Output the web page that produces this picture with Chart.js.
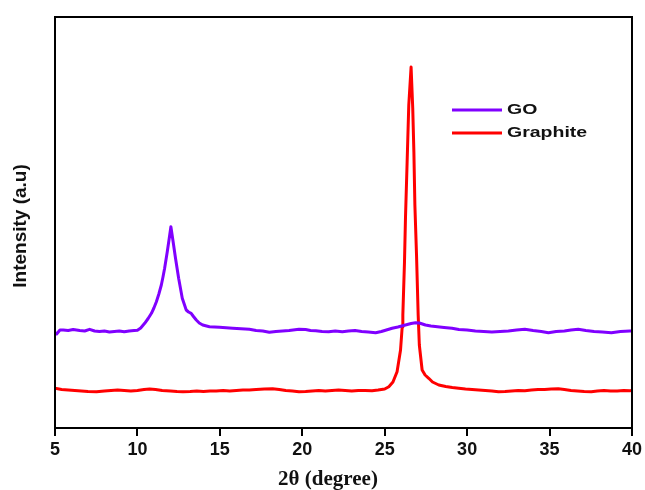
<!DOCTYPE html>
<html>
<head>
<meta charset="utf-8">
<script src="https://cdn.jsdelivr.net/npm/chart.js@4.4.0/dist/chart.umd.min.js"></script>
<style>
  html, body { margin: 0; padding: 0; background: #fff; }
  #wrap { width: 645px; height: 490px; }
</style>
</head>
<body>
<div id="wrap"><canvas id="xrd"></canvas></div>
<script>
// XRD patterns, 2theta in degrees, intensity in arbitrary units
var goTheta = [5.00, 5.10, 5.30, 5.50, 5.80, 6.10, 6.50, 6.80, 7.10, 7.40, 7.70, 8.00, 8.30, 8.60, 8.90, 9.20, 9.50, 9.80, 10.00,
  10.20, 10.44, 10.65, 10.85, 11.00, 11.15, 11.30, 11.45, 11.55, 11.65, 11.81, 11.93, 12.03, 12.15, 12.31, 12.50, 12.72,
  12.96, 13.10, 13.26, 13.40, 13.57, 13.75, 13.96, 14.37, 14.98, 15.78, 16.79, 17.20, 17.60, 18.00, 18.40, 18.80, 19.20, 19.80,
  20.20, 20.50, 20.82, 21.20, 21.60, 22.00, 22.43, 22.80, 23.20, 23.60, 24.00, 24.45, 24.80, 25.10, 25.45, 25.80, 26.26, 26.60,
  26.87, 27.10, 27.47, 27.80, 28.20, 28.60, 29.08, 29.50, 30.00, 30.50, 31.00, 31.50, 32.00, 32.50, 33.00, 33.50, 34.00, 34.50,
  34.93, 35.40, 35.90, 36.30, 36.74, 37.20, 37.70, 38.20, 38.75, 39.30, 39.87, 40.00];
var goIntensity = [953, 940, 980, 980, 975, 985, 975, 970, 987, 970, 965, 970, 960, 965, 970, 962, 970, 975, 978,
  1000, 1047, 1095, 1147, 1200, 1263, 1340, 1430, 1510, 1597, 1763, 1897, 2013, 1880, 1697, 1497, 1297,
  1180, 1160, 1147, 1115, 1080, 1050, 1030, 1013, 1007, 997, 987, 975, 970, 957, 965, 970, 975, 987,
  985, 975, 973, 965, 962, 970, 963, 970, 975, 965, 960, 953, 965, 980, 997, 1010, 1030, 1045,
  1053, 1050, 1030, 1020, 1012, 1005, 997, 985, 980, 970, 965, 960, 965, 970, 980, 987, 975, 965,
  953, 965, 970, 980, 987, 975, 965, 960, 953, 965, 970, 970];

var graphiteTheta = [5.0, 5.4, 5.8, 6.2, 6.6, 7.0, 7.52, 8.0, 8.4, 8.8, 9.2, 9.6, 10.0, 10.4, 10.74, 11.1, 11.5, 12.0, 12.4,
  12.76, 13.2, 13.6, 14.0, 14.4, 14.78, 15.2, 15.6, 16.0, 16.4, 16.79, 17.2, 17.7, 18.2, 18.6, 19.0, 19.4, 19.8, 20.2, 20.6,
  21.0, 21.4, 21.8, 22.2, 22.6, 23.0, 23.4, 23.8, 24.23, 24.6, 25.0, 25.25, 25.5, 25.75, 25.96, 26.06, 26.10, 26.20, 26.26,
  26.36, 26.46, 26.60, 26.70, 26.77, 26.83, 26.93, 27.03, 27.10, 27.27, 27.45, 27.67, 27.9, 28.28, 28.7, 29.1, 29.49, 29.9,
  30.3, 30.7, 31.1, 31.5, 31.9, 32.3, 32.7, 33.1, 33.5, 33.9, 34.3, 34.7, 35.1, 35.53, 35.9, 36.3, 36.7, 37.1, 37.53, 37.9,
  38.3, 38.7, 39.1, 39.5, 39.87, 40.0];
var graphiteIntensity = [397, 385, 380, 375, 370, 365, 363, 370, 375, 380, 375, 370, 375, 385, 390, 385, 375, 370, 365,
  363, 365, 370, 365, 370, 370, 375, 370, 375, 380, 380, 385, 390, 393, 385, 375, 370, 363, 365, 370,
  375, 370, 375, 380, 375, 370, 375, 375, 373, 380, 390, 413, 460, 563, 780, 1010, 1130, 1660, 2100,
  2660, 3230, 3610, 3200, 2760, 2230, 1730, 1130, 830, 580, 530, 497, 460, 430, 415, 405, 397, 390,
  385, 380, 375, 370, 363, 365, 370, 375, 373, 380, 385, 385, 390, 393, 385, 375, 370, 365, 363, 370,
  375, 370, 370, 375, 373, 375];

var xTicks = [5, 10, 15, 20, 25, 30, 35, 40];

function toPoints(xs, ys) {
  return xs.map(function (x, i) { return { x: x, y: ys[i] }; });
}

// frame, axis titles and the legend box inside the plot
var framePlugin = {
  id: 'frame',
  afterDatasetsDraw: function (chart) {
    var c = chart.ctx, a = chart.chartArea;
    c.save();
    c.strokeStyle = '#000';
    c.lineWidth = 2;
    c.strokeRect(a.left, a.top, a.right - a.left, a.bottom - a.top);

    c.fillStyle = '#111';
    c.textAlign = 'center';
    c.textBaseline = 'middle';
    c.font = 'bold 21px "Liberation Serif", "Times New Roman", serif';
    c.fillText('2θ (degree)', 328, 480);

    c.save();
    c.translate(21, 226);
    c.rotate(-Math.PI / 2);
    c.font = 'bold 19px "Liberation Sans", Arial, sans-serif';
    c.fillText('Intensity (a.u)', 0, 0);
    c.restore();

    c.textAlign = 'left';
    var rows = [110, 133];
    chart.data.datasets.forEach(function (ds, i) {
      var y = rows[i];
      c.strokeStyle = ds.borderColor;
      c.lineWidth = 3;
      c.beginPath();
      c.moveTo(452, y);
      c.lineTo(502, y);
      c.stroke();
      c.font = 'bold 15px "Liberation Sans", Arial, sans-serif';
      c.save();
      c.translate(507, y);
      c.scale(1.3, 1);
      c.fillText(ds.label, 0, 0);
      c.restore();
    });
    c.restore();
  }
};

var chart = new Chart(document.getElementById('xrd'), {
  type: 'line',
  data: {
    datasets: [
      {
        label: 'GO',
        data: toPoints(goTheta, goIntensity),
        borderColor: '#8000ff',
        borderWidth: 3
      },
      {
        label: 'Graphite',
        data: toPoints(graphiteTheta, graphiteIntensity),
        borderColor: '#ff0000',
        borderWidth: 3
      }
    ]
  },
  options: {
    responsive: true,
    maintainAspectRatio: false,
    animation: false,
    layout: { padding: { top: 17, right: 11, left: 0, bottom: 0 } },
    elements: {
      point: { radius: 0 },
      line: { tension: 0, borderJoinStyle: 'round', borderCapStyle: 'round' }
    },
    plugins: { legend: { display: false }, tooltip: { enabled: false } },
    scales: {
      x: {
        type: 'linear',
        min: 5,
        max: 40,
        afterBuildTicks: function (scale) {
          scale.ticks = xTicks.map(function (v) { return { value: v }; });
        },
        afterFit: function (scale) { scale.height = 62; },
        grid: { display: true, drawOnChartArea: false, drawTicks: true, tickLength: 8, color: '#000', lineWidth: 2 },
        border: { display: true, color: '#000', width: 2 },
        ticks: {
          color: '#111',
          padding: 3,
          maxRotation: 0,
          font: { family: '"Liberation Sans", Arial, sans-serif', size: 18, weight: 'bold' }
        }
      },
      y: {
        min: 0,
        max: 4110,
        afterFit: function (scale) { scale.width = 55; },
        grid: { display: false },
        border: { display: true, color: '#000', width: 2 },
        ticks: { display: false }
      }
    }
  },
  plugins: [framePlugin]
});
</script>
</body>
</html>
